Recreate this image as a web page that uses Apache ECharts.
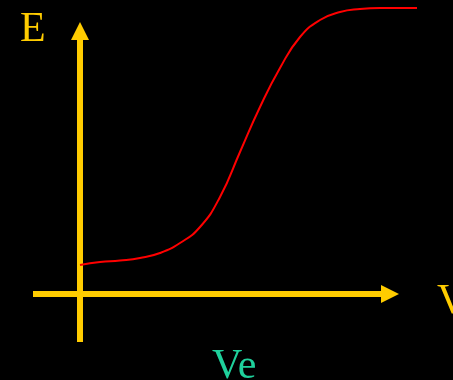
<!DOCTYPE html>
<html>
<head>
<meta charset="utf-8">
<script src="https://cdn.jsdelivr.net/npm/echarts@6/dist/echarts.min.js"></script>
<style>
  html, body { margin: 0; padding: 0; background: #000; }
  #chart { width: 453px; height: 380px; }
</style>
</head>
<body>
<div id="chart"></div>
<script>
// curve (x = Ve axis, y = E axis, arbitrary units)
var curveX = [0, 2, 4, 6, 8, 10, 12, 14, 16, 18, 20, 22, 24, 26, 28, 30, 32, 33.7];
var curveY = [2.9, 3.2, 3.35, 3.6, 4.1, 5.1, 6.7, 9.7, 14.2, 18.7, 22.6, 25.7, 27.4, 28.2, 28.5, 28.6, 28.6, 28.6];
var xName = 'V';
var yName = 'E';
var markName = 'Ve';

var yellow = '#FFCC00';
var curveData = [];
for (var i = 0; i < curveX.length; i++) {
    curveData.push([curveX[i], curveY[i]]);
}

var chart = echarts.init(document.getElementById('chart'));
var axisLine = {
    show: true,
    onZero: true,
    symbol: ['none', 'triangle'],
    symbolSize: [18, 18],
    lineStyle: { color: yellow, width: 6, cap: 'butt' }
};
var hidden = {
    axisLine: { show: false },
    axisTick: { show: false },
    axisLabel: { show: false },
    splitLine: { show: false }
};
var option = {
    backgroundColor: '#000',
    animation: false,
    grid: [
        { left: 33, right: 63, top: 31, bottom: 38 },
        { left: 80, right: 33, top: 0, bottom: 86 }
    ],
    xAxis: [
        {
            type: 'value', gridIndex: 0, min: -4.7, max: 31,
            axisLine: axisLine,
            axisTick: { show: false },
            axisLabel: { show: false },
            splitLine: { show: false }
        },
        Object.assign({ type: 'value', gridIndex: 1, min: 0, max: 34 }, hidden)
    ],
    yAxis: [
        {
            type: 'value', gridIndex: 0, min: -4.8, max: 26.3,
            axisLine: axisLine,
            axisTick: { show: false },
            axisLabel: { show: false },
            splitLine: { show: false }
        },
        Object.assign({ type: 'value', gridIndex: 1, min: 0, max: 29.4 }, hidden)
    ],
    graphic: [
        { type: 'text', left: 20, top: 9, style: { text: yName, font: '42px "Liberation Serif"', fill: yellow } },
        { type: 'text', left: 437, top: 281, style: { text: xName, font: '42px "Liberation Serif"', fill: yellow } },
        { type: 'text', left: 212, top: 346, style: { text: markName, font: '42px "Liberation Serif"', fill: '#1FD19C' } }
    ],
    series: [
        {
            type: 'line',
            xAxisIndex: 1,
            yAxisIndex: 1,
            data: curveData,
            smooth: true,
            clip: false,
            showSymbol: false,
            lineStyle: { color: '#FF0000', width: 2 },
            z: 1
        }
    ]
};
chart.setOption(option);
</script>
</body>
</html>
